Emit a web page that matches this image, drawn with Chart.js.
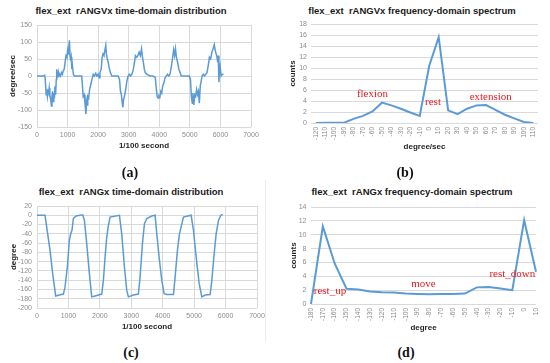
<!DOCTYPE html>
<html>
<head>
<meta charset="utf-8">
<script src="https://cdn.jsdelivr.net/npm/chart.js@4/dist/chart.umd.min.js"></script>
<style>
  body { margin: 0; background: #fff; }
  #page { position: relative; width: 550px; height: 363px; overflow: hidden; font-family: "Liberation Sans", Arial, sans-serif; }
  .box { position: absolute; }
  .ttl { position: absolute; font-weight: bold; font-size: 9.5px; color: #1a1a1a; white-space: nowrap; transform: translate(-50%, -50%); }
  .tag { position: absolute; font-family: "Liberation Serif", "Times New Roman", serif; font-weight: bold; font-size: 14px; color: #111; transform: translate(-50%, -50%); }
  .sep { position: absolute; left: 265px; top: 180px; width: 1px; height: 162px; background: #ececec; }
</style>
</head>
<body>
<div id="page">
  <div class="ttl" style="left:131px;top:10px">flex_ext&nbsp; rANGVx time-domain distribution</div>
  <div class="ttl" style="left:412px;top:10px">flex_ext&nbsp; rANGVx frequency-domain spectrum</div>
  <div class="ttl" style="left:131px;top:191px">flex_ext&nbsp; rANGx time-domain distribution</div>
  <div class="ttl" style="left:412px;top:191px">flex_ext&nbsp; rANGx frequency-domain spectrum</div>

  <div class="box" style="left:0;top:0"><canvas id="chartA" width="275" height="160"></canvas></div>
  <div class="box" style="left:275px;top:0"><canvas id="chartB" width="275" height="160"></canvas></div>
  <div class="box" style="left:0;top:180px"><canvas id="chartC" width="275" height="160"></canvas></div>
  <div class="box" style="left:275px;top:180px"><canvas id="chartD" width="275" height="160"></canvas></div>
  <div class="sep"></div>

  <div class="tag" style="left:130px;top:173px">(a)</div>
  <div class="tag" style="left:405px;top:173px">(b)</div>
  <div class="tag" style="left:131px;top:353px">(c)</div>
  <div class="tag" style="left:406px;top:353px">(d)</div>
</div>

<script>
// (a) angular velocity over time, 1/100 s
const timeA = [0, 100, 200, 250, 270, 300, 320, 340, 360, 380, 400, 420, 450, 470, 490, 510, 530, 550, 570, 590,
  610, 630, 645, 660, 680, 700, 720, 740, 770, 800, 830, 860, 890, 920, 950, 980, 1000, 1020, 1040, 1060,
  1080, 1100, 1120, 1140, 1160, 1190, 1220, 1300, 1400, 1460, 1480, 1510, 1540, 1570, 1600, 1620, 1640, 1660, 1690, 1720,
  1760, 1800, 1840, 1880, 1920, 1960, 2000, 2030, 2060, 2100, 2130, 2160, 2190, 2220, 2250, 2270, 2300, 2330, 2360, 2400,
  2450, 2550, 2650, 2700, 2730, 2760, 2790, 2810, 2830, 2860, 2900, 2940, 2980, 3020, 3060, 3100, 3140, 3180, 3220, 3260,
  3300, 3340, 3380, 3420, 3450, 3480, 3510, 3540, 3600, 3700, 3800, 3870, 3900, 3930, 3960, 3990, 4020, 4050, 4080, 4110,
  4150, 4190, 4230, 4270, 4310, 4350, 4390, 4430, 4470, 4500, 4530, 4560, 4600, 4640, 4680, 4720, 4800, 4900, 4980, 5020,
  5050, 5080, 5100, 5130, 5160, 5190, 5220, 5250, 5280, 5310, 5340, 5370, 5400, 5440, 5480, 5520, 5560, 5600, 5640, 5680,
  5720, 5760, 5800, 5830, 5860, 5890, 5910, 5930, 5950, 5970, 5990, 6020, 6060, 6100];
const velA = [0, 0, 0, 2, -10, -55, -40, -60, -45, -50, -35, -55, -70, -88, -60, -45, -75, -50, -65, -30,
  -55, -10, 20, 5, -5, 10, 0, 5, 0, 10, 5, 15, 20, 40, 60, 55, 75, 65, 85, 105,
  60, 45, 55, 20, 30, 5, 0, 0, 0, 0, -20, -60, -55, -80, -112, -75, -85, -60, -65, -40,
  -25, -10, 5, 0, 8, 0, 5, -5, 10, 20, 55, 65, 60, 75, 90, 65, 50, 40, 25, 10,
  0, 0, 0, -10, -45, -55, -80, -92, -70, -60, -40, -15, 0, 5, 0, 5, 15, 35, 60, 55,
  60, 70, 60, 80, 55, 40, 20, 10, 5, 0, 0, -5, -35, -60, -65, -58, -62, -45, -50, -30,
  -20, -5, 0, 5, 0, 5, 25, 50, 77, 60, 80, 55, 40, 20, 10, 0, 0, 0, 0, -10,
  -60, -80, -50, -85, -55, -60, -40, -55, -45, -80, -30, -15, 0, 5, 0, 5, 10, 30, 55, 50,
  70, 80, 92, 75, 65, 55, 40, 60, -18, 20, 30, 0, 5, 5];

// (b) angular velocity histogram
const binsB = ['-120', '-110', '-100', '-90', '-80', '-70', '-60', '-50', '-40', '-30', '-20', '-10',
  '0', '10', '20', '30', '40', '50', '60', '70', '80', '90', '100', '110'];
const countsB = [0, 0.05, 0.05, 0.05, 0.75, 1.3, 2.1, 3.7, 3.2, 2.6, 1.9, 1.3,
  10.4, 15.6, 2.3, 1.6, 2.6, 3.2, 3.25, 2.4, 1.5, 0.85, 0.2, 0];
const notesB = [
  { text: 'flexion', at: 6, y: 5.3 },
  { text: 'rest', at: 12.4, y: 3.8 },
  { text: 'extension', at: 18.5, y: 4.7 }
];

// (c) angle over time
const timeC = [0, 255, 414, 499, 595, 711, 838, 892, 966, 1030, 1072, 1115, 1157, 1242, 1454,
  1508, 1582, 1667, 1741, 1847, 2060, 2113, 2166, 2219, 2272, 2325, 2622,
  2696, 2781, 2856, 2908, 3068, 3226, 3280, 3355, 3419, 3494, 3652, 3758,
  3811, 3896, 3970, 4045, 4130, 4342, 4395, 4469, 4533, 4660, 4904,
  4979, 5064, 5159, 5245, 5350, 5510, 5563, 5637, 5700, 5775, 5850, 5913];
const angleC = [0, 0, -75, -126, -174, -172, -170, -155, -111, -54, -40, -32, -7, -1.5, 1,
  -11, -61, -126, -176, -174, -170, -140, -90, -47, -22, -4, 0,
  -40, -111, -162, -176, -172, -170, -133, -61, -18, -7, -1.5, 0,
  -40, -97, -140, -169, -171, -171, -133, -75, -40, -4, 0,
  -32, -90, -147, -176, -172, -171, -140, -83, -40, -11, 0, 2];

// (d) angle histogram
const binsD = ['-180', '-170', '-160', '-150', '-140', '-130', '-120', '-110', '-100', '-90',
  '-80', '-70', '-60', '-50', '-40', '-30', '-20', '-10', '0', '10'];
const countsD = [0, 11.2, 5.85, 2.2, 2.1, 1.8, 1.7, 1.65, 1.5, 1.45,
  1.4, 1.45, 1.45, 1.5, 2.4, 2.45, 2.25, 2.0, 12.1, 4.65];
const notesD = [
  { text: 'rest_up', at: 1.6, y: 1.9 },
  { text: 'move', at: 9.5, y: 2.9 },
  { text: 'rest_down', at: 17, y: 4.3 }
];

const LINE = '#5b9bd5';
const GRID = '#d9d9d9';
const TICK = '#8c8c8c';
const FONT = '"Liberation Sans", Arial, sans-serif';

// red hand-written style labels placed in data units
const notesPlugin = {
  id: 'notes',
  afterDatasetsDraw(chart, args, opts) {
    const items = opts.items || [];
    const { ctx, scales: { x, y } } = chart;
    ctx.save();
    ctx.font = '11px "Liberation Serif", "Times New Roman", serif';
    ctx.fillStyle = '#e8191f';
    ctx.textAlign = 'center';
    ctx.textBaseline = 'middle';
    items.forEach(n => ctx.fillText(n.text, x.getPixelForValue(n.at), y.getPixelForValue(n.y)));
    ctx.restore();
  }
};

function axisTitle(text, pad) {
  return { display: true, text: text, color: '#262626', font: { family: FONT, size: 8, weight: 'bold' }, padding: pad };
}

function plain(v) { return String(v); }

function makeChart(id, cfg) {
  const ctx = document.getElementById(id).getContext('2d');
  return new Chart(ctx, {
    type: 'line',
    data: { labels: cfg.labels, datasets: [{ data: cfg.data, borderColor: LINE, borderWidth: cfg.lineWidth, pointRadius: 0, tension: 0, fill: false }] },
    options: {
      responsive: false,
      animation: false,
      events: [],
      layout: { padding: cfg.padding },
      plugins: { legend: { display: false }, tooltip: { enabled: false }, notes: { items: cfg.notes || [] } },
      scales: {
        x: Object.assign({
          grid: { display: cfg.xGrid, color: GRID, drawTicks: false },
          border: { display: false },
          title: axisTitle(cfg.xTitle, { top: 0, bottom: 0 }),
          afterFit: s => { s.height = cfg.xHeight; }
        }, cfg.x),
        y: {
          min: cfg.yMin, max: cfg.yMax,
          grid: { color: GRID, drawTicks: false },
          border: { display: false },
          ticks: { stepSize: cfg.yStep, autoSkip: false, callback: plain, color: TICK, padding: cfg.yTickPad, font: { family: FONT, size: 7 } },
          title: axisTitle(cfg.yTitle, { top: cfg.yTitlePad, bottom: 0 }),
          afterFit: s => { s.width = cfg.yWidth; }
        }
      }
    },
    plugins: [notesPlugin]
  });
}

function timeAxis() {
  return {
    type: 'linear', min: 0, max: 7000,
    ticks: { stepSize: 1000, autoSkip: false, callback: plain, color: TICK, padding: 4, maxRotation: 0, font: { family: FONT, size: 7 } }
  };
}

function binAxis() {
  return {
    type: 'category',
    ticks: { color: TICK, padding: 4, autoSkip: false, minRotation: 90, maxRotation: 90, font: { family: FONT, size: 6.5 } }
  };
}

document.addEventListener('DOMContentLoaded', () => {
  makeChart('chartA', {
    data: timeA.map((t, i) => ({ x: t, y: velA[i] })),
    lineWidth: 1.5, xGrid: true, x: timeAxis(),
    xTitle: '1/100 second', yTitle: 'degree/sec',
    yMin: -150, yMax: 150, yStep: 50,
    padding: { top: 25, right: 24, bottom: 9, left: 0 },
    xHeight: 24, yWidth: 37, yTickPad: 5, yTitlePad: 8
  });
  makeChart('chartB', {
    labels: binsB, data: countsB,
    lineWidth: 2, xGrid: false, x: Object.assign(binAxis(), { offset: true }),
    xTitle: 'degree/sec', yTitle: 'counts', notes: notesB,
    yMin: 0, yMax: 18, yStep: 2,
    padding: { top: 24, right: 12, bottom: 8, left: 0 },
    xHeight: 29, yWidth: 36, yTickPad: 4, yTitlePad: 13
  });
  makeChart('chartC', {
    data: timeC.map((t, i) => ({ x: t, y: angleC[i] })),
    lineWidth: 1.5, xGrid: true, x: timeAxis(),
    xTitle: '1/100 second', yTitle: 'degree',
    yMin: -200, yMax: 20, yStep: 20,
    padding: { top: 26, right: 18, bottom: 8, left: 0 },
    xHeight: 24, yWidth: 37, yTickPad: 5, yTitlePad: 8.5
  });
  makeChart('chartD', {
    labels: binsD, data: countsD,
    lineWidth: 2, xGrid: false, x: Object.assign(binAxis(), { offset: false }),
    xTitle: 'degree', yTitle: 'counts', notes: notesD,
    yMin: 0, yMax: 14, yStep: 2,
    padding: { top: 27, right: 14, bottom: 7.5, left: 0 },
    xHeight: 28.5, yWidth: 36, yTickPad: 4.5, yTitlePad: 13.5
  });
});
</script>
</body>
</html>
